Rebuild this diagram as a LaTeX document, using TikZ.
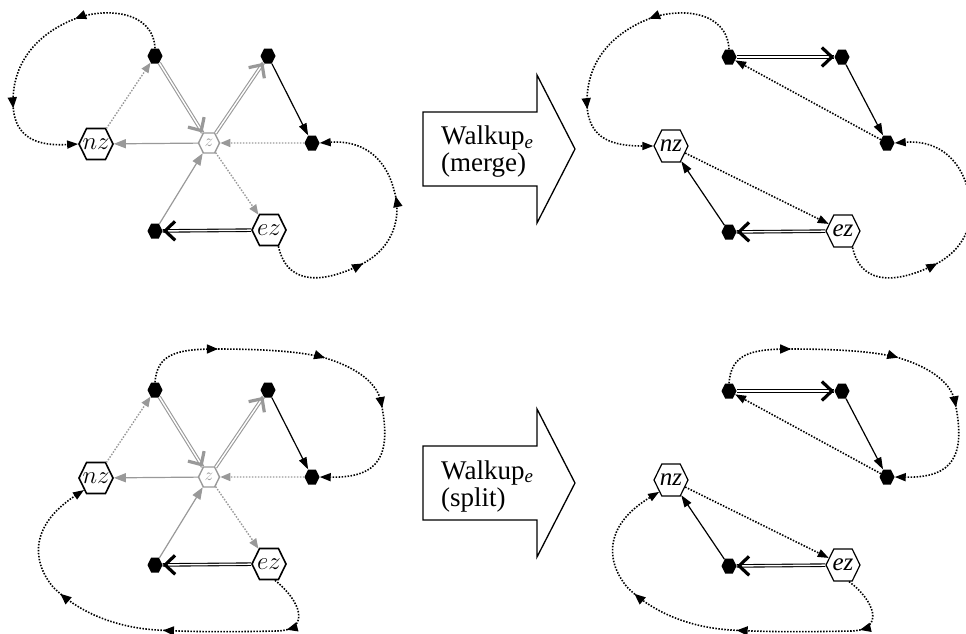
\documentclass[tikz,border=0pt]{standalone}
\usepackage{fontspec}
\setmainfont{Liberation Serif}
\usetikzlibrary{arrows.meta,shapes.symbols,decorations.markings}

\definecolor{ghost}{gray}{0.6}

\newcommand\hexlabel[1]{\makebox[0pt]{#1}}

\tikzset{
  hexbase/.style={signal, signal to=west and east, signal pointer angle=128, inner sep=0pt},
  blk/.style={hexbase, fill=black, minimum width=15pt, minimum height=15pt},
  hexcm/.style={hexbase, draw=black, line width=1.6pt, fill=white,
    minimum width=34pt, minimum height=31pt, font=\fontsize{25}{25}\selectfont},
  hextm/.style={hexbase, draw=black, line width=1.2pt, fill=white,
    minimum width=34pt, minimum height=32pt, font=\fontsize{25}{25}\selectfont\itshape},
  hexz/.style={hexbase, draw=ghost, line width=1.4pt, fill=white, text=ghost,
    minimum width=21pt, minimum height=20pt, font=\fontsize{19}{19}\selectfont},
  plainarr/.style={line width=1.2pt, -{Triangle[length=12pt,width=8pt]}},
  ghostarr/.style={draw=ghost, line width=1.2pt, -{Triangle[length=12pt,width=9pt]}},
  dotpat/.style={line width=1.6pt, dash pattern=on 1.5pt off 1.5pt},
  dotarr/.style={dotpat, -{Triangle[length=11pt,width=8pt]}},
  ghostdot/.style={draw=ghost, line width=1.4pt, dash pattern=on 1.5pt off 1.5pt,
    -{Triangle[length=10pt,width=8pt]}},
  midtip/.style={postaction={decorate, decoration={markings,
    mark=at position #1 with {\arrow{Triangle[length=11pt,width=9pt]}}}}},
  dblbase/.style={double=white, double distance=1.4pt, line width=1.1pt},
  chev/.style={postaction={decorate, decoration={markings,
    mark=at position 0.999 with {\arrow{Straight Barb[length=10pt,width=19pt,line width=3.2pt]}}}}},
  blkdbl/.style={dblbase, draw=black, chev},
  ghostdbl/.style={dblbase, draw=ghost, chev},
  blockarrow/.style={draw=black, line width=1.3pt, fill=white, line join=miter},
  walklabel/.style={anchor=west, inner sep=0pt, align=left,
    font=\fontsize{27}{27}\selectfont},
}

% the graph before the walkup: the star around z
\newcommand\origcore{%
  \node[blk] (A) at (155,56) {};
  \node[blk] (B) at (268,56) {};
  \node[blk] (C) at (312,143) {};
  \node[blk] (D) at (155,231) {};
  \node[hexcm] (nz) at (96,144) {\hexlabel{$nz$}};
  \node[hexcm] (ez) at (269,230) {\hexlabel{$ez$}};
  \node[hexz] (z) at (209,143) {\hexlabel{$z$}};
  \draw[ghostdbl] (A) -- (z);
  \draw[ghostdbl] (z) -- (B);
  \draw[plainarr] (B) -- (C);
  \draw[ghostdot] (C) -- (z);
  \draw[ghostarr] (z) -- (nz);
  \draw[ghostdot] (nz) -- (A);
  \draw[ghostarr] (D) -- (z);
  \draw[ghostdot] (z) -- (ez);
  \draw[blkdbl] (ez) -- (D);
}

% the graph after the walkup: z removed
\newcommand\walkcore{%
  \node[blk] (A) at (155,57) {};
  \node[blk] (B) at (268,57) {};
  \node[blk] (C) at (313,143) {};
  \node[blk] (D) at (155,232) {};
  \node[hextm] (nz) at (97,146) {\hexlabel{nz}};
  \node[hextm] (ez) at (269,231) {\hexlabel{ez}};
  \draw[blkdbl] (A) -- (B);
  \draw[plainarr] (B) -- (C);
  \draw[dotarr] (C) -- (A);
  \draw[plainarr] (D) -- (nz);
  \draw[dotarr] (nz) -- (ez);
  \draw[blkdbl] (ez) -- (D);
}

% outer paths of the merge case
\newcommand\mergeloops{%
  \draw[dotarr, midtip=0.33, midtip=0.72]
    (A.north) .. controls (153,10) and (105,8) .. (77,18)
    .. controls (40,32) and (12,60) .. (13,104)
    .. controls (14,140) and (40,146) .. (nz.west);
  \draw[dotarr, midtip=0.36, midtip=0.64]
    (ez.-60) .. controls (288,290) and (330,280) .. (360,265)
    .. controls (395,248) and (402,215) .. (394,190)
    .. controls (385,155) and (360,140) .. (C.east);
}

% outer paths of the split case
\newcommand\splitloops{%
  \draw[dotarr, midtip=0.21, midtip=0.49, midtip=0.70]
    (A.north) .. controls (157,21) and (175,15) .. (215,15)
    .. controls (270,15) and (300,18) .. (322,23)
    .. controls (360,34) and (378,51) .. (381,68)
    .. controls (392,121) and (380,144) .. (C.east);
  \draw[dotarr, midtip=0.15, midtip=0.44, midtip=0.70]
    (ez.-70) .. controls (300,266) and (312,296) .. (277,297)
    .. controls (230,298) and (190,298) .. (157,296)
    .. controls (110,293) and (75,275) .. (53,253)
    .. controls (30,225) and (32,190) .. (nz.225);
}

\begin{document}
\begin{tikzpicture}[x=1pt, y=-1pt]
  \useasboundingbox (0,0) rectangle (966,633);
  \clip (0,0) rectangle (966,633);

  % merge: before
  \begin{scope}[name prefix=ml-]
    \origcore
    \mergeloops
  \end{scope}
  % merge: after
  \begin{scope}[shift={(574,0)}, name prefix=mr-]
    \walkcore
    \mergeloops
  \end{scope}
  % split: before
  \begin{scope}[shift={(0,334)}, name prefix=sl-]
    \origcore
    \splitloops
  \end{scope}
  % split: after
  \begin{scope}[shift={(574,334)}, name prefix=sr-]
    \walkcore
    \splitloops
  \end{scope}

  % transformation arrows
  \draw[blockarrow] (423,112) -- (537,112) -- (537,75) -- (575,149)
    -- (537,223) -- (537,186) -- (423,186) -- cycle;
  \node[walklabel] (wm) at (441,152) {Walkup\textsubscript{\textit{e}}\\(merge)};
  \begin{scope}[shift={(0,334)}]
    \draw[blockarrow] (423,112) -- (537,112) -- (537,75) -- (575,149)
      -- (537,223) -- (537,186) -- (423,186) -- cycle;
    \node[walklabel] (ws) at (441,152) {Walkup\textsubscript{\textit{e}}\\(split)};
  \end{scope}
\end{tikzpicture}
\end{document}
